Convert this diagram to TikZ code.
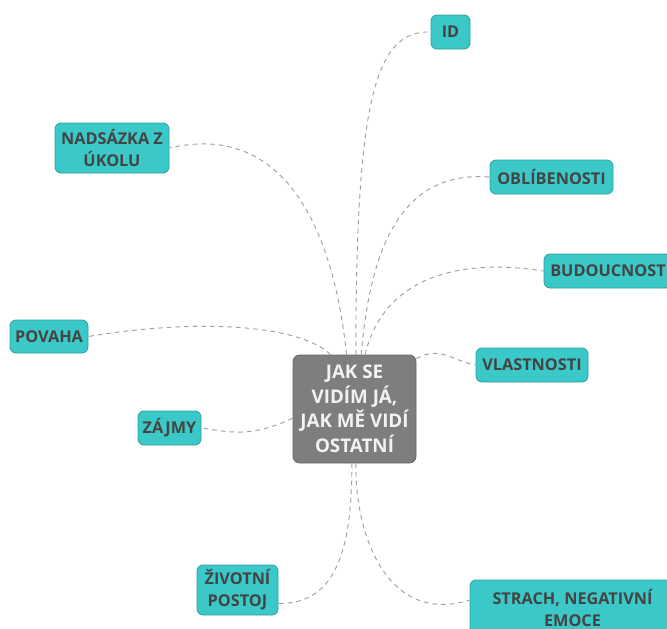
\documentclass[tikz,border=0pt]{standalone}
\usepackage{fontspec}
\setmainfont{Open Sans}
\definecolor{teal1}{HTML}{3AC9C8}
\definecolor{tealb}{HTML}{2E9F9E}
\definecolor{txt}{HTML}{444444}
\definecolor{ctrfill}{HTML}{7E7E7E}
\definecolor{ctrtxt}{HTML}{F2F2F2}
\definecolor{link}{HTML}{A0A0A0}
\begin{document}
\begin{tikzpicture}[x=0.75pt,y=-0.75pt,
  topic/.style={draw=tealb,line width=0.6pt,fill=teal1,rounded corners=4.5pt,
    text=txt,font=\bfseries\fontsize{12.2}{16.5}\selectfont,align=center,
    inner sep=0pt},
  ctrbox/.style={draw=ctrfill!80!black,line width=0.6pt,fill=ctrfill,rounded corners=5pt,
    text=ctrtxt,font=\bfseries\fontsize{14.1}{18.4}\selectfont,align=center,
    inner sep=0pt,minimum width=92.25pt,minimum height=81pt},
  conn/.style={draw=link,line width=0.7pt,dash pattern=on 3.5pt off 3pt}]
\useasboundingbox (0,0) rectangle (667,628);
\node[ctrbox] (ctr) at (354.5,409) {JAK SE\\VIDÍM JÁ,\\JAK MĚ VIDÍ\\OSTATNÍ};
\node[topic,minimum width=29.25pt,minimum height=25.5pt] (id) at (450.5,32) {ID};
\node[topic,minimum width=85.5pt,minimum height=37.5pt] (nad) at (112,148) {NADSÁZKA Z\\ÚKOLU};
\node[topic,minimum width=92.25pt,minimum height=25.5pt] (obl) at (551.5,177) {OBLÍBENOSTI};
\node[topic,minimum width=96pt,minimum height=25.5pt] (bud) at (608,271) {BUDOUCNOST};
\node[topic,minimum width=58.5pt,minimum height=24.75pt] (pov) at (49,336.5) {POVAHA};
\node[topic,minimum width=84pt,minimum height=25.5pt] (vla) at (532,365) {VLASTNOSTI};
\node[topic,minimum width=47.25pt,minimum height=25.5pt] (zaj) at (169.5,428) {ZÁJMY};
\node[topic,minimum width=60.75pt,minimum height=37.5pt] (ziv) at (237.5,590) {ŽIVOTNÍ\\POSTOJ};
\node[topic,minimum width=153.75pt,minimum height=42pt] (str) at (572.5,608) {STRACH, NEGATIVNÍ\\EMOCE};

\draw[conn] ([xshift=1pt]ctr.north) .. controls (356,100) and (375,30) .. (id.west);
\draw[conn] ([xshift=-6pt]ctr.north) .. controls (335,240) and (290,120) .. (nad.east);
\draw[conn] ([xshift=5pt]ctr.north) .. controls (370,250) and (400,170) .. (obl.west);
\draw[conn] ([xshift=8pt]ctr.north) .. controls (380,290) and (440,255) .. (bud.west);
\draw[conn] ([xshift=-18pt]ctr.north) .. controls (300,325) and (200,318) .. (pov.east);
\draw[conn] ([yshift=-3pt]ctr.north east) .. controls (440,345) and (455,362) .. (vla.west);
\draw[conn] ([yshift=-7pt]ctr.west) .. controls (250,438) and (230,432) .. (zaj.east);
\draw[conn] ([xshift=-2pt]ctr.south) .. controls (352,540) and (340,605) .. ([yshift=-10pt]ziv.east);
\draw[conn] ([xshift=1pt]ctr.south) .. controls (355,540) and (390,625) .. ([yshift=6pt]str.west);
\end{tikzpicture}
\end{document}
